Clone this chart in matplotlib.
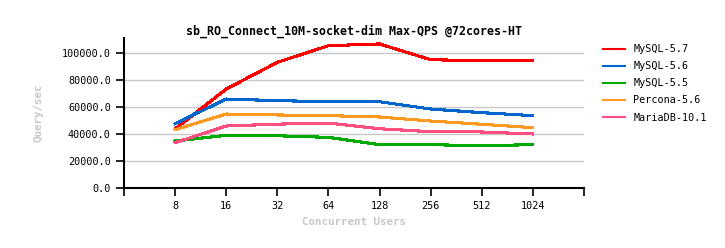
import matplotlib
matplotlib.use("Agg")
import matplotlib.pyplot as plt

# data
users = ["8", "16", "32", "64", "128", "256", "512", "1024"]
mysql57 = [43700, 73300, 93100, 105400, 106700, 95000, 94300, 94100]
mysql56 = [47600, 65900, 64700, 63900, 63900, 58500, 55800, 53600]
mysql55 = [34800, 39000, 38700, 37500, 32100, 32100, 31300, 32100]
percona56 = [43200, 54800, 54100, 53600, 52600, 49600, 47200, 44700]
mariadb101 = [33600, 45900, 47300, 48100, 43900, 41700, 41500, 40000]

series = [
    ("MySQL-5.7", mysql57, "#ff0000"),
    ("MySQL-5.6", mysql56, "#0066cc"),
    ("MySQL-5.5", mysql55, "#00aa00"),
    ("Percona-5.6", percona56, "#ff9922"),
    ("MariaDB-10.1", mariadb101, "#ff4f80"),
]

plt.rcParams["font.family"] = "DejaVu Sans Mono"

fig = plt.figure(figsize=(7.25, 2.48), dpi=100)
ax = fig.add_axes([124 / 725, 1 - 188 / 248, 460 / 725, 150 / 248])

xs = list(range(len(users)))
for name, vals, color in series:
    ax.plot(xs, vals, color=color, lw=1.5, label=name, antialiased=False)

ax.set_xlim(-1, len(users))
ax.set_ylim(0, 111100)
ax.set_xticks([-1] + xs + [len(users)])
ax.set_xticklabels([""] + users + [""], fontsize=7.3)
ax.set_yticks([0, 20000, 40000, 60000, 80000, 100000])
ax.set_yticklabels(["%.1f" % v for v in ax.get_yticks()], fontsize=7.3)
ax.tick_params(axis="both", direction="out", length=6, width=1.2, color="black")
ax.yaxis.grid(True, color="#c8c8c8", lw=1)
ax.set_axisbelow(True)

for s in ["top", "right"]:
    ax.spines[s].set_visible(False)
for s in ["left", "bottom"]:
    ax.spines[s].set_linewidth(1.5)

ax.set_title("sb_RO_Connect_10M-socket-dim Max-QPS @72cores-HT",
             fontsize=8.4, fontweight="bold", pad=2)
ax.set_xlabel("Concurrent Users", color="#c8c8c8", fontsize=7.8,
              fontweight="bold", labelpad=4)
ax.set_ylabel("Query/sec", color="#c8c8c8", fontsize=7.8,
              fontweight="bold", labelpad=13)

ax.legend(loc="upper left", bbox_to_anchor=(1.021, 1.02), frameon=False,
          fontsize=7.3, handlelength=2.2, handletextpad=0.8,
          labelspacing=0.7)

fig.savefig("out.png", dpi=100)
